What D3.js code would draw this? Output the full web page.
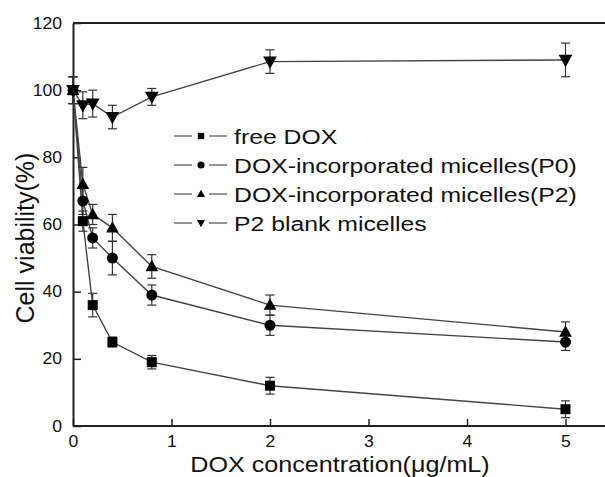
<!DOCTYPE html>
<html>
<head>
<meta charset="utf-8">
<script src="https://cdn.jsdelivr.net/npm/d3@7"></script>
<style>
  html, body { margin: 0; padding: 0; background: #fff; }
  svg { display: block; font-family: "Liberation Sans", Arial, sans-serif; }
</style>
</head>
<body>
<svg id="chart" width="605" height="477"></svg>
<script>
// DOX concentrations (µg/mL)
const concentrations = [0, 0.1, 0.2, 0.4, 0.8, 2, 5];

// Cell viability (%) and error (±) per formulation
const seriesNames = [
  "free DOX",
  "DOX-incorporated micelles(P0)",
  "DOX-incorporated micelles(P2)",
  "P2 blank micelles"
];
const freeDox      = [100, 61, 36, 25, 19, 12, 5];
const freeDoxErr   = [4, 3, 3.5, 1.5, 2, 2.5, 2.5];
const micelleP0    = [100, 67, 56, 50, 39, 30, 25];
const micelleP0Err = [4, 4, 3, 5, 3, 3, 2.5];
const micelleP2    = [100, 72, 63, 59, 47.5, 36, 28];
const micelleP2Err = [4, 5, 3, 4, 3.5, 3, 3];
const blankP2      = [100, 95.5, 96, 92, 98, 108.5, 109];
const blankP2Err   = [4, 4, 4, 3.5, 2.5, 3.5, 5];

const xTicks = [0, 1, 2, 3, 4, 5];
const yTicks = [0, 20, 40, 60, 80, 100, 120];

const seriesValues = [freeDox, micelleP0, micelleP2, blankP2];
const seriesErrors = [freeDoxErr, micelleP0Err, micelleP2Err, blankP2Err];
const symbolTypes = ["square", "circle", "triangle", "triangleDown"];
const markerSizes = [100, 95, 120, 140];

const svg = d3.select("#chart");
const margin = { left: 73, top: 23, right: 0, bottom: 51 };
const W = 605, H = 477;

const x = d3.scaleLinear().domain([0, 5.4]).range([margin.left, margin.left + 98.5 * 5.4]);
const y = d3.scaleLinear().domain([0, 120]).range([H - margin.bottom, margin.top]);

// Frame: top line and both axes
svg.append("line")
  .attr("x1", x(0)).attr("x2", W).attr("y1", y(120)).attr("y2", y(120))
  .attr("stroke", "#222").attr("stroke-width", 2);

const xAxis = d3.axisBottom(x).tickValues(xTicks).tickSizeInner(-7).tickSizeOuter(0).tickPadding(10)
  .tickFormat(d3.format("d"));
const yAxis = d3.axisLeft(y).tickValues(yTicks).tickSizeInner(-8).tickSizeOuter(0).tickPadding(10)
  .tickFormat(d3.format("d"));

const gx = svg.append("g").attr("transform", `translate(0,${y(0)})`).call(xAxis);
const gy = svg.append("g").attr("transform", `translate(${x(0)},0)`).call(yAxis);

[gx, gy].forEach(g => {
  g.select(".domain").attr("stroke", "#222").attr("stroke-width", 2);
  g.selectAll(".tick line").attr("stroke", "#222").attr("stroke-width", 1.5);
  g.selectAll(".tick text").attr("fill", "#111").attr("font-size", 16)
    .attr("font-family", "Liberation Sans, Arial, sans-serif")
    .attr("transform", "scale(1.1,1)");
});
gx.select(".domain").attr("d", `M${x(0)},0H${W}`);
gx.selectAll(".tick text").attr("dy", "0.71em");

// Axis titles
svg.append("text")
  .attr("transform", "translate(340,471.5) scale(1.17,1)")
  .attr("text-anchor", "middle")
  .attr("font-size", 21.5).attr("fill", "#111")
  .text("DOX concentration(\u03bcg/mL)");

svg.append("text")
  .attr("transform", `translate(34,${238}) rotate(-90)`)
  .attr("text-anchor", "middle")
  .attr("font-size", 25).attr("fill", "#111")
  .text("Cell viability(%)");

const plot = svg.append("g");
const line = d3.line().x(d => x(d.c)).y(d => y(d.v));

seriesValues.forEach((vals, i) => {
  const pts = concentrations.map((c, j) => ({ c, v: vals[j], e: seriesErrors[i][j] }));

  plot.append("path")
    .datum(pts)
    .attr("d", line)
    .attr("fill", "none")
    .attr("stroke", "#444")
    .attr("stroke-width", 1.4);

  // Error bars
  const eb = plot.append("g").selectAll("g").data(pts).join("g");
  eb.append("line")
    .attr("x1", d => x(d.c)).attr("x2", d => x(d.c))
    .attr("y1", d => y(d.v - d.e)).attr("y2", d => y(d.v + d.e))
    .attr("stroke", "#333").attr("stroke-width", 1.2);
  [-1, 1].forEach(s => {
    eb.append("line")
      .attr("x1", d => x(d.c) - 4.5).attr("x2", d => x(d.c) + 4.5)
      .attr("y1", d => y(d.v + s * d.e)).attr("y2", d => y(d.v + s * d.e))
      .attr("stroke", "#333").attr("stroke-width", 1.2);
  });
});

// Markers
function symbolPath(type, size) {
  if (type === "square") return d3.symbol(d3.symbolSquare, size)();
  if (type === "circle") return d3.symbol(d3.symbolCircle, size)();
  const r = Math.sqrt(size) * 0.58;
  if (type === "triangle") return `M0,${-r * 1.05}L${r},${r * 0.75}L${-r},${r * 0.75}Z`;
  return `M0,${r * 1.05}L${r},${-r * 0.75}L${-r},${-r * 0.75}Z`;
}

seriesValues.forEach((vals, i) => {
  plot.append("g").selectAll("path")
    .data(concentrations.map((c, j) => ({ c, v: vals[j] })))
    .join("path")
    .attr("transform", d => `translate(${x(d.c)},${y(d.v)})`)
    .attr("d", symbolPath(symbolTypes[i], markerSizes[i]))
    .attr("fill", "#000");
});

// Legend
const legend = svg.append("g");
const legendY = [136, 165, 194, 223];
const legendSizes = [40, 40, 50, 50];
seriesNames.forEach((name, i) => {
  const g = legend.append("g").attr("transform", `translate(0,${legendY[i]})`);
  g.append("line").attr("x1", 174).attr("x2", 192).attr("y1", 0).attr("y2", 0)
    .attr("stroke", "#666").attr("stroke-width", 1.4);
  g.append("line").attr("x1", 209).attr("x2", 227).attr("y1", 0).attr("y2", 0)
    .attr("stroke", "#666").attr("stroke-width", 1.4);
  g.append("path").attr("transform", "translate(201,0)")
    .attr("d", symbolPath(symbolTypes[i], legendSizes[i])).attr("fill", "#000");
  g.append("text").attr("transform", "translate(234,0) scale(1.18,1)").attr("dy", "0.36em")
    .attr("font-size", 21).attr("fill", "#111").text(name);
});
</script>
</body>
</html>
